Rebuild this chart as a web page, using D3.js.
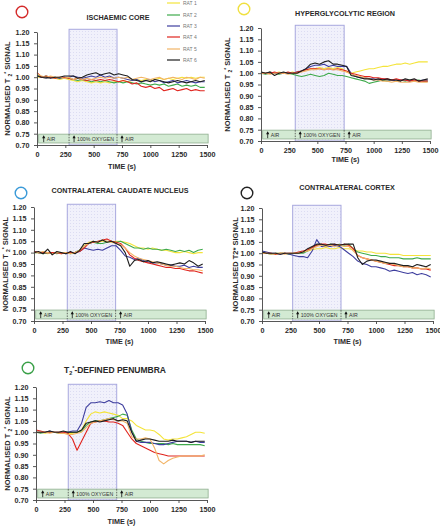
<!DOCTYPE html>
<html><head><meta charset="utf-8">
<script src="https://cdn.jsdelivr.net/npm/d3@7"></script>
<style>
html,body{margin:0;padding:0;background:#fff;}
svg{display:block;font-family:"Liberation Sans",Arial,sans-serif;}
</style></head>
<body>
<svg id="chart" width="440" height="527"></svg>
<script>
// ---------------- DATA ----------------
const TIMES = [0,40,80,120,160,200,240,280,320,360,400,440,480,520,560,600,640,680,720,760,800,840,880,920,960,1000,1040,1080,1120,1160,1200,1240,1280,1320,1360,1400,1440,1480];
const RATS = ["RAT 1","RAT 2","RAT 3","RAT 4","RAT 5","RAT 6"];
const RAT_COLORS = ["#f4e43a","#3faa4c","#3e3e9e","#e0241e","#f2b466","#1e1e1e"];
const X_TICKS = [0,250,500,750,1000,1250,1500];
const Y_TICKS = [0.70,0.75,0.80,0.85,0.90,0.95,1.00,1.05,1.10,1.15,1.20];

const coreSeries = [
 [1.00,1.00,0.995,1.00,0.995,0.99,0.995,0.99,0.985,0.98,0.985,0.98,0.975,0.98,0.975,0.98,0.975,0.98,0.98,0.985,0.98,0.985,0.99,0.985,0.99,0.985,0.99,0.995,0.99,0.995,0.99,0.995,1.00,0.995,1.00,0.995,1.00,1.00],
 [1.01,1.00,1.005,1.00,1.00,0.995,1.00,0.995,0.99,0.985,0.99,0.985,0.98,0.985,0.98,0.985,0.98,0.975,0.98,0.975,0.98,0.975,0.97,0.975,0.97,0.965,0.97,0.965,0.97,0.96,0.965,0.97,0.96,0.965,0.96,0.965,0.955,0.955],
 [1.005,1.00,0.995,1.00,1.00,0.995,1.00,1.00,1.005,1.00,0.995,1.00,1.005,1.00,1.01,1.00,1.005,0.995,1.00,0.995,0.99,0.985,0.99,0.98,0.985,0.99,0.98,0.985,0.975,0.98,0.985,0.975,0.98,0.985,0.98,0.975,0.98,0.98],
 [1.02,1.00,1.005,1.00,0.995,1.00,1.00,0.995,0.99,0.995,0.99,0.985,0.99,0.985,0.99,0.985,0.99,0.985,0.98,0.985,0.98,0.97,0.975,0.96,0.955,0.96,0.95,0.955,0.94,0.945,0.95,0.94,0.945,0.95,0.94,0.945,0.94,0.94],
 [1.015,1.005,1.00,1.005,1.00,1.00,0.995,1.00,0.99,0.995,0.99,0.995,0.99,0.995,1.00,0.995,1.00,0.995,1.00,0.995,1.00,0.99,0.995,1.00,0.995,0.99,0.995,1.00,0.99,0.995,1.00,0.995,0.99,1.00,0.995,0.99,1.00,0.995],
 [1.005,1.00,1.00,0.995,1.00,1.00,1.005,1.005,1.005,0.995,1.00,1.01,1.015,1.02,1.01,1.015,1.02,1.01,1.015,1.01,1.005,0.99,0.985,0.98,0.985,0.98,0.99,0.985,0.98,0.975,0.98,0.985,0.98,0.975,0.98,0.985,0.98,0.985]
];
const hyperSeries = [
 [1.005,1.00,1.005,1.00,1.005,1.00,1.00,1.005,1.00,1.01,1.015,1.02,1.02,1.025,1.02,1.025,1.02,1.025,1.02,1.005,1.00,1.005,1.01,1.015,1.02,1.02,1.025,1.03,1.03,1.035,1.04,1.04,1.045,1.04,1.045,1.05,1.05,1.05],
 [1.00,0.995,1.00,1.00,0.995,1.00,1.00,0.995,0.99,0.985,0.99,0.995,0.99,0.985,0.99,1.00,0.995,0.99,0.99,0.985,0.98,0.975,0.97,0.965,0.955,0.96,0.965,0.97,0.965,0.97,0.965,0.97,0.965,0.97,0.965,0.97,0.965,0.965],
 [1.005,1.00,1.005,1.00,1.00,1.00,1.00,1.00,1.005,1.01,1.02,1.03,1.035,1.035,1.04,1.03,1.035,1.03,1.03,1.03,1.00,0.985,0.98,0.98,0.975,0.975,0.97,0.975,0.97,0.97,0.965,0.97,0.97,0.965,0.97,0.965,0.97,0.97],
 [1.00,1.00,1.00,1.005,1.00,1.00,1.005,1.00,1.005,1.01,1.015,1.02,1.02,1.02,1.015,1.02,1.015,1.02,1.015,1.01,1.00,0.995,0.99,0.985,0.985,0.98,0.98,0.975,0.975,0.97,0.975,0.97,0.97,0.965,0.97,0.965,0.965,0.965],
 [1.00,1.00,0.995,1.00,1.00,1.00,0.995,1.00,1.00,1.005,1.01,1.015,1.015,1.02,1.015,1.02,1.015,1.015,1.01,1.005,0.995,0.99,0.985,0.98,0.975,0.97,0.97,0.965,0.965,0.96,0.965,0.96,0.96,0.96,0.965,0.96,0.96,0.96],
 [1.005,1.00,1.005,0.99,1.00,1.005,1.00,1.00,1.00,1.01,1.02,1.04,1.045,1.04,1.05,1.055,1.04,1.04,1.035,1.03,0.99,0.985,0.98,0.975,0.975,0.97,0.975,0.97,0.975,0.97,0.97,0.965,0.975,0.97,0.975,0.965,0.97,0.975]
];
const caudateSeries = [
 [1.005,1.00,1.00,0.995,1.00,1.00,0.995,1.00,1.00,1.00,1.01,1.03,1.045,1.05,1.045,1.05,1.05,1.045,1.05,1.05,1.045,1.04,1.03,1.02,1.02,1.015,1.02,1.015,1.01,1.01,1.005,1.00,1.00,1.005,1.00,0.995,1.00,1.00],
 [1.00,1.00,0.995,1.00,1.00,0.995,1.00,1.00,0.995,1.00,1.01,1.03,1.04,1.045,1.04,1.04,1.045,1.05,1.045,1.05,1.04,1.03,1.02,1.02,1.015,1.02,1.015,1.015,1.01,1.015,1.01,1.005,1.01,1.005,1.01,1.00,1.01,1.015],
 [1.005,1.00,1.00,1.00,0.995,1.00,1.00,0.995,1.00,1.00,1.005,1.02,1.015,1.01,1.015,1.01,1.02,1.03,1.03,1.01,0.985,0.98,0.97,0.975,0.965,0.96,0.955,0.955,0.95,0.945,0.945,0.94,0.94,0.945,0.935,0.94,0.935,0.935],
 [1.005,1.00,1.00,1.00,1.00,1.00,0.995,1.00,1.00,1.00,1.005,1.02,1.04,1.045,1.05,1.055,1.06,1.05,1.045,1.04,1.02,0.99,0.975,0.965,0.96,0.955,0.95,0.945,0.94,0.935,0.935,0.93,0.93,0.925,0.92,0.92,0.915,0.91],
 [1.00,1.00,1.005,1.00,0.995,1.00,1.00,1.00,0.995,1.00,1.01,1.03,1.04,1.05,1.045,1.055,1.05,1.045,1.04,1.035,1.02,1.00,0.985,0.975,0.97,0.965,0.96,0.955,0.95,0.945,0.94,0.94,0.935,0.93,0.93,0.925,0.925,0.92],
 [1.00,1.005,0.995,1.015,0.99,1.005,1.00,0.995,1.005,0.995,1.01,1.04,1.04,1.05,1.045,1.055,1.045,1.05,1.04,1.03,1.00,0.94,0.965,0.97,0.96,0.965,0.955,0.96,0.955,0.95,0.945,0.95,0.955,0.95,0.965,0.955,0.94,0.95]
];
const cortexSeries = [
 [1.00,1.00,1.00,0.995,1.00,1.00,0.995,1.00,1.00,1.005,1.01,1.015,1.02,1.02,1.025,1.02,1.02,1.025,1.02,1.02,1.015,1.01,1.01,1.005,1.005,1.00,1.00,1.00,0.995,0.995,0.995,0.99,0.99,0.99,0.99,0.99,0.99,0.99],
 [1.00,1.00,0.995,1.00,1.00,1.00,0.995,1.00,1.00,1.00,1.01,1.025,1.035,1.04,1.035,1.04,1.035,1.04,1.035,1.04,1.02,1.005,1.00,0.995,0.99,0.99,0.985,0.985,0.98,0.98,0.98,0.975,0.975,0.975,0.98,0.975,0.975,0.975],
 [1.01,1.005,1.00,1.00,0.995,1.00,0.995,0.99,0.985,0.985,0.98,1.01,1.06,1.03,1.03,1.03,1.035,1.03,1.015,1.00,0.985,0.965,0.955,0.95,0.94,0.94,0.935,0.93,0.92,0.925,0.92,0.915,0.91,0.915,0.905,0.91,0.905,0.895],
 [1.00,1.00,1.00,0.995,1.00,1.00,1.00,1.00,1.005,1.01,1.015,1.025,1.035,1.04,1.04,1.035,1.04,1.035,1.04,1.035,1.02,0.99,0.98,0.975,0.97,0.965,0.96,0.955,0.95,0.945,0.945,0.94,0.94,0.935,0.935,0.93,0.93,0.925],
 [1.00,1.00,0.995,1.00,1.00,0.995,1.00,1.00,1.00,1.005,1.01,1.02,1.03,1.035,1.03,1.035,1.03,1.035,1.03,1.03,1.01,0.99,0.98,0.975,0.97,0.965,0.96,0.955,0.955,0.95,0.945,0.94,0.94,0.935,0.935,0.93,0.935,0.93],
 [1.005,1.00,1.00,1.00,0.995,1.00,1.00,1.00,1.00,1.005,1.02,1.03,1.04,1.04,1.035,1.04,1.04,1.035,1.04,1.04,1.04,0.98,0.95,0.965,0.97,0.97,0.965,0.96,0.955,0.955,0.95,0.945,0.945,0.94,0.95,0.945,0.94,0.95]
];
const penumbraSeries = [
 [1.00,1.00,0.995,1.00,1.00,1.00,1.00,0.995,0.995,1.00,1.01,1.05,1.08,1.09,1.085,1.09,1.085,1.08,1.075,1.06,1.06,1.05,1.03,1.02,1.01,1.01,1.005,0.99,0.97,0.965,0.97,0.97,0.975,0.98,0.99,1.00,1.00,0.995],
 [1.00,0.995,1.00,1.00,1.00,0.995,1.00,1.00,1.00,1.00,1.005,1.03,1.045,1.05,1.05,1.055,1.06,1.065,1.07,1.08,1.075,1.01,0.97,0.96,0.955,0.95,0.95,0.95,0.95,0.945,0.95,0.945,0.945,0.945,0.945,0.945,0.945,0.94],
 [1.00,1.00,1.00,1.005,1.00,1.00,1.00,1.00,1.005,1.005,1.04,1.11,1.13,1.13,1.135,1.13,1.14,1.13,1.13,1.12,1.08,1.00,0.96,0.955,0.955,0.955,0.95,0.945,0.945,0.95,0.955,0.96,0.96,0.96,0.955,0.96,0.955,0.955],
 [1.01,1.005,1.00,1.00,1.00,1.00,1.00,0.995,0.97,0.92,0.96,1.00,1.04,1.045,1.05,1.05,1.045,1.045,1.04,1.03,1.00,0.97,0.95,0.94,0.93,0.92,0.91,0.905,0.90,0.895,0.895,0.895,0.895,0.895,0.895,0.895,0.895,0.895],
 [1.00,1.00,1.00,0.995,1.00,0.995,0.995,0.99,0.99,0.995,1.00,1.02,1.04,1.045,1.05,1.055,1.06,1.055,1.05,1.05,1.04,0.98,0.97,0.97,0.975,0.97,0.93,0.875,0.86,0.875,0.885,0.89,0.895,0.895,0.895,0.895,0.895,0.90],
 [1.00,1.00,1.00,1.005,1.00,1.00,1.005,1.00,1.00,1.00,1.01,1.04,1.045,1.05,1.045,1.05,1.055,1.06,1.05,1.055,1.05,1.00,0.96,0.965,0.97,0.97,0.965,0.96,0.96,0.96,0.965,0.96,0.96,0.96,0.955,0.96,0.96,0.96]
];

// ---------------- LAYOUT ----------------
const panels = [
 {series:coreSeries, title:"ISCHAEMIC CORE", circle:"#d42a2a", cx:22, cy:12,
  L:37,R:207,T:32,B:145, tx:118, ty:20, ylab:"sub", ylx:7, timeY:168.5, oxy:[283,706], legend:true},
 {series:hyperSeries, title:"HYPERGLYCOLYTIC REGION", circle:"#f0e040", cx:244, cy:9,
  L:261,R:430,T:28,B:141, tx:345, ty:16, ylab:"sub", ylx:227, timeY:162, oxy:[304,738]},
 {series:caudateSeries, title:"CONTRALATERAL CAUDATE NUCLEUS", circle:"#3a9ad8", cx:21, cy:193,
  L:34,R:205,T:207,B:321, tx:120, ty:193, ylab:"sub", ylx:5, timeY:343.5, oxy:[292,716]},
 {series:cortexSeries, title:"CONTRALATERAL CORTEX", circle:"#222", cx:247, cy:193,
  L:262,R:433,T:208,B:321, tx:347, ty:190, ylab:"plain", ylx:235, timeY:344, oxy:[269,693]},
 {series:penumbraSeries, title:"pen", circle:"#3aa048", cx:28, cy:368,
  L:36,R:207,T:387,B:500, tx:115, ty:373, ylab:"sub", ylx:7, timeY:524, oxy:[283,708]}
];

const svg = d3.select("#chart");
const defs = svg.append("defs");
const pat = defs.append("pattern").attr("id","dots").attr("width",3).attr("height",3)
  .attr("patternUnits","userSpaceOnUse");
pat.append("rect").attr("width",3).attr("height",3).attr("fill","#f1f1fb");
pat.append("rect").attr("x",1).attr("y",1).attr("width",1).attr("height",1).attr("fill","#dcdcf2");

const FONT_COL = "#2a2a2a";

function arrow(g, x, yb) {
  g.append("line").attr("x1",x).attr("x2",x).attr("y1",yb).attr("y2",yb-5.5)
    .attr("stroke","#111").attr("stroke-width",0.8);
  g.append("path").attr("d",`M${x-1.6},${yb-4} L${x},${yb-7} L${x+1.6},${yb-4} Z`).attr("fill","#111");
}

panels.forEach(p => {
  const g = svg.append("g");
  const x = d3.scaleLinear().domain([0,1500]).range([p.L,p.R]);
  const y = d3.scaleLinear().domain([0.70,1.20]).range([p.B,p.T]);

  // oxygen shading
  g.append("rect").attr("x",x(p.oxy[0])).attr("y",y(1.212))
    .attr("width",x(p.oxy[1])-x(p.oxy[0])).attr("height",y(0.70)-y(1.212))
    .attr("fill","url(#dots)").attr("stroke","#a8a8de").attr("stroke-width",1);

  // lines
  const line = d3.line().x((d,i)=>x(TIMES[i])).y(d=>y(d));
  p.series.forEach((s,k)=>{
    g.append("path").datum(s).attr("d",line).attr("fill","none")
      .attr("stroke",RAT_COLORS[k]).attr("stroke-width",1.1).attr("stroke-linejoin","round");
  });

  // gas band
  const bx0 = x(15), bx1 = x(1510);
  const by0 = y(0.748), by1 = y(0.709);
  g.append("rect").attr("x",bx0).attr("y",by0).attr("width",bx1-bx0).attr("height",by1-by0)
    .attr("fill","#d3ead3").attr("stroke","#8fae8f").attr("stroke-width",0.8);
  [p.oxy[0],p.oxy[1]].forEach(t=>{
    g.append("line").attr("x1",x(t)).attr("x2",x(t)).attr("y1",by0).attr("y2",by1)
      .attr("stroke","#333").attr("stroke-width",0.7).attr("stroke-dasharray","1.5,1.2");
  });
  const midY = (by0+by1)/2;
  const lab = [[x(15)+5,"AIR"],[x(p.oxy[0])+5,"100% OXYGEN"],[x(p.oxy[1])+5,"AIR"]];
  lab.forEach(([lx,t])=>{
    arrow(g, lx, by1-0.8);
    g.append("text").attr("x",lx+3).attr("y",midY+2).attr("font-size",5.2)
      .attr("fill","#333").text(t);
  });

  // axes
  const xa = g.append("g").attr("transform",`translate(0,${p.B})`)
    .call(d3.axisBottom(x).tickValues(X_TICKS).tickSize(3).tickSizeOuter(0).tickFormat(d3.format("d")));
  const ya = g.append("g").attr("transform",`translate(${p.L},0)`)
    .call(d3.axisLeft(y).tickValues(Y_TICKS).tickSize(3).tickSizeOuter(0).tickFormat(d3.format(".2f")));
  [xa,ya].forEach(a=>{
    a.selectAll("path,line").attr("stroke","#444").attr("stroke-width",0.9);
    a.selectAll("text").attr("font-size",7.2).attr("font-weight","bold").attr("fill",FONT_COL)
      .attr("font-family","'Liberation Sans',Arial,sans-serif");
  });
  xa.selectAll("text").attr("dy","0.85em");
  ya.selectAll("text").attr("dx","-0.2em");

  // title
  const tt = g.append("text").attr("x",p.tx).attr("y",p.ty).attr("text-anchor","middle")
    .attr("font-size",7.2).attr("font-weight","bold").attr("fill",FONT_COL);
  if (p.title === "pen") {
    tt.attr("font-size",8.5);
    tt.append("tspan").text("T");
    tt.append("tspan").attr("font-size",5.5).attr("dy",2).text("2");
    tt.append("tspan").attr("font-size",5.5).attr("dy",-5).text("*");
    tt.append("tspan").attr("dy",3).text("-DEFINED PENUMBRA");
  } else {
    tt.text(p.title);
  }

  // circle marker
  g.append("circle").attr("cx",p.cx).attr("cy",p.cy).attr("r",5.8)
    .attr("fill","none").attr("stroke",p.circle).attr("stroke-width",1.4);

  // y label
  const yl = g.append("text").attr("transform",`translate(${p.ylx},${(p.T+p.B)/2}) rotate(-90)`)
    .attr("text-anchor","middle").attr("font-size",7.5).attr("font-weight","bold").attr("fill",FONT_COL)
    .attr("dy","0.35em");
  if (p.ylab === "sub") {
    yl.append("tspan").text("NORMALISED T ");
    yl.append("tspan").attr("font-size",5).attr("dy",2).text("2");
    yl.append("tspan").attr("font-size",5).attr("dy",-4).text("*");
    yl.append("tspan").attr("dy",2).text(" SIGNAL");
  } else {
    yl.text("NORMALISED T2* SIGNAL");
  }

  // x label
  g.append("text").attr("x",(p.L+p.R)/2).attr("y",p.timeY).attr("text-anchor","middle")
    .attr("font-size",7.2).attr("font-weight","bold").attr("fill",FONT_COL).text("TIME (s)");

  // legend
  if (p.legend) {
    const ly = [3,15,26,37,49,60];
    RATS.forEach((r,k)=>{
      g.append("line").attr("x1",167).attr("x2",180).attr("y1",ly[k]).attr("y2",ly[k])
        .attr("stroke",RAT_COLORS[k]).attr("stroke-width",1.2);
      g.append("text").attr("x",183).attr("y",ly[k]+1.8).attr("font-size",5).attr("fill","#777").text(r);
    });
  }
});
</script>
</body></html>
